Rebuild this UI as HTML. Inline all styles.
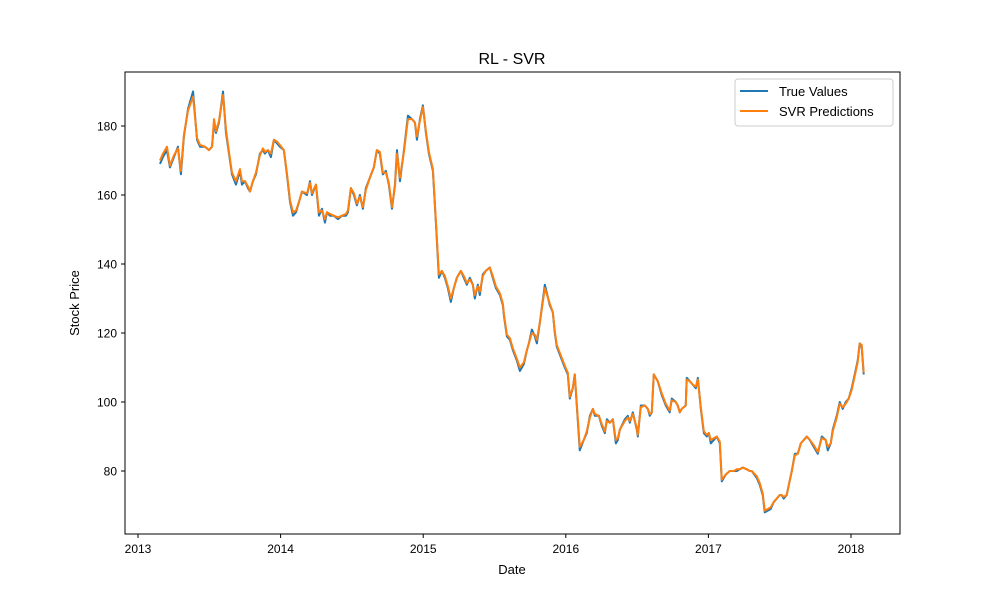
<!DOCTYPE html>
<html><head><meta charset="utf-8"><style>
body{margin:0;background:#fff;}
svg{font-family:"Liberation Sans","DejaVu Sans",sans-serif;}
</style></head><body>
<svg id="chart" width="1000" height="600" xmlns="http://www.w3.org/2000/svg">
<rect width="1000" height="600" fill="#fff"/>
<text x="512" y="64" text-anchor="middle" font-size="16">RL - SVR</text>
<g id="plot"></g>
<rect x="125" y="72" width="775" height="462" fill="none" stroke="#000" stroke-width="1"/>
<g id="xticks"></g><g id="yticks"></g>
<text x="512" y="574" text-anchor="middle" font-size="13">Date</text>
<text transform="translate(79,303) rotate(-90)" text-anchor="middle" font-size="13">Stock Price</text>
<g>
<rect x="735" y="79" width="158" height="47" rx="3" fill="#fff" stroke="#ccc"/>
<line x1="740" y1="91" x2="768" y2="91" stroke="#1f77b4" stroke-width="2"/>
<text x="779" y="96" font-size="13">True Values</text>
<line x1="740" y1="111" x2="768" y2="111" stroke="#ff7f0e" stroke-width="2"/>
<text x="779" y="116" font-size="13">SVR Predictions</text>
</g>
</svg>
<script>
const dates=[2013.154,2013.175,2013.203,2013.224,2013.252,2013.280,2013.301,2013.322,2013.351,2013.386,2013.414,2013.435,2013.470,2013.498,2013.519,2013.533,2013.547,2013.568,2013.596,2013.617,2013.638,2013.659,2013.687,2013.715,2013.729,2013.750,2013.771,2013.785,2013.806,2013.827,2013.855,2013.876,2013.890,2013.911,2013.932,2013.953,2013.974,2013.995,2014.023,2014.044,2014.066,2014.087,2014.108,2014.129,2014.150,2014.185,2014.206,2014.220,2014.248,2014.269,2014.290,2014.311,2014.325,2014.346,2014.374,2014.402,2014.430,2014.458,2014.472,2014.493,2014.514,2014.535,2014.556,2014.577,2014.598,2014.626,2014.654,2014.675,2014.696,2014.717,2014.738,2014.759,2014.781,2014.802,2014.816,2014.837,2014.865,2014.893,2014.921,2014.942,2014.956,2014.977,2014.998,2015.019,2015.040,2015.068,2015.089,2015.110,2015.131,2015.152,2015.173,2015.194,2015.215,2015.236,2015.264,2015.285,2015.306,2015.327,2015.348,2015.362,2015.383,2015.397,2015.418,2015.439,2015.467,2015.488,2015.510,2015.538,2015.559,2015.566,2015.587,2015.608,2015.629,2015.657,2015.678,2015.706,2015.727,2015.741,2015.762,2015.783,2015.797,2015.818,2015.853,2015.888,2015.909,2015.923,2015.937,2015.965,2015.993,2016.014,2016.028,2016.049,2016.063,2016.077,2016.098,2016.126,2016.147,2016.169,2016.190,2016.204,2016.232,2016.253,2016.274,2016.288,2016.309,2016.330,2016.351,2016.365,2016.379,2016.414,2016.435,2016.449,2016.470,2016.498,2016.505,2016.526,2016.554,2016.575,2016.589,2016.603,2016.617,2016.645,2016.673,2016.701,2016.729,2016.743,2016.771,2016.785,2016.799,2016.813,2016.841,2016.848,2016.870,2016.891,2016.912,2016.926,2016.947,2016.968,2016.989,2017.003,2017.017,2017.038,2017.059,2017.080,2017.094,2017.122,2017.150,2017.178,2017.199,2017.220,2017.241,2017.269,2017.290,2017.304,2017.339,2017.360,2017.381,2017.395,2017.416,2017.437,2017.458,2017.479,2017.500,2017.514,2017.528,2017.549,2017.564,2017.585,2017.606,2017.627,2017.648,2017.669,2017.690,2017.711,2017.739,2017.767,2017.795,2017.823,2017.837,2017.858,2017.872,2017.900,2017.921,2017.942,2017.963,2017.984,2018.005,2018.026,2018.047,2018.061,2018.075,2018.089];
const trueVals=[169,171,173,168,171,174,166,177,185,190,176,174,174,173,174,181,178,181,190,178,172,166,163,167,163,164,162,161,164,166,172,173,172,173,171,176,175,174,173,166,158,154,155,158,161,160,164,160,163,154,156,152,155,154,154,153,154,154,155,162,160,157,160,156,162,165,168,173,172,166,167,163,156,163,173,164,173,183,182,181,176,182,186,178,172,167,152,136,138,136,133,129,133,136,138,136,134,136,134,130,134,131,137,138,139,136,133,131,128,125,119,118,115,112,109,111,115,117,121,119,117,123,134,128,126,120,116,113,110,108,101,104,108,99,86,89,91,96,98,96,96,93,91,95,94,95,88,89,92,95,96,94,97,92,90,99,99,98,96,97,108,106,102,99,97,101,100,99,97,98,99,107,106,105,104,107,98,91,90,91,88,89,90,88,77,79,80,80,80,80.5,81,80.5,80,80,78,76,73,68,68.5,69,71,72,73,73,72,73,76,80,85,85,88,89,90,89,87,85,90,89,86,88,92,96,100,98,100,101,104,108,112,117,116,108];
const svrVals=[170,172,174,168.5,171.5,173.5,167,177.5,184.5,188.5,176.5,174.5,174,173,174,182,178.5,181.5,189,179,172.5,166.5,164,167.5,164,164,162.5,161,164,166.5,171.5,173.5,172.5,173,172,176,175.5,174.5,173,166.5,158.5,155,155.5,158,161,160.5,163.5,160.5,163,155,155.5,153,155,154.5,154,153.5,154,154.5,155.5,162,160.5,157.5,159.5,156.5,161.5,165,168,173,172.5,166.5,166.5,163.5,156.5,162.5,172,165,172.5,182,182,181,177,181.5,185.5,178.5,172.5,167.5,152.5,137,138,136.5,133.5,130,133,136,138,136.5,134.5,135.5,134,131,133.5,132,136.5,138,139,136.5,133.5,131.5,128.5,125.5,119.5,118.5,115.5,112.5,110,111.5,115,117,120,119.5,118,123,133,128.5,126,120.5,116.5,113.5,110.5,108.5,101.5,104,108,99.5,87,89,91.5,95.5,98,96.5,96,93.5,91.5,94.5,94,95,89,89.5,92,94.5,95.5,94.5,96.5,92.5,90.5,98.5,99,98,96.5,97,108,106,102.5,99.5,97.5,100.5,100,99,97,98,99,106.5,106,105,104.5,106.5,98.5,91.5,90.5,91,89,89.5,90,88.5,77.5,79,80,80,80.5,80.5,81,80.5,80,80,78.5,76.5,73.5,68.5,69,69.5,71,72,73,73,72.5,73,76,80,84.5,85,88,89,90,89,87.5,85.5,89.5,89,87,88,91.5,95.5,99.5,98.5,99.5,101,103.5,107.5,111.5,117,116.5,108.5];
const xTicks=[2013,2014,2015,2016,2017,2018];
const yTicks=[80,100,120,140,160,180];

const NS="http://www.w3.org/2000/svg";
function xs(t){return 138+(t-2013)*142.6;}
function ys(v){return 471-(v-80)*3.45;}
function mk(tag,attrs,parent){const e=document.createElementNS(NS,tag);for(const k in attrs)e.setAttribute(k,attrs[k]);parent.appendChild(e);return e;}
const plot=document.getElementById('plot');
function series(vals,color,name){
  const d=vals.map((v,i)=>(i?'L':'M')+xs(dates[i]).toFixed(2)+' '+ys(v).toFixed(2)).join(' ');
  const p=mk('path',{d:d,fill:'none',stroke:color,'stroke-width':2,'stroke-linejoin':'round'},plot);
  
  
}
series(trueVals,'#1f77b4','true-values-line');
series(svrVals,'#ff7f0e','svr-predictions-line');
const xg=document.getElementById('xticks');
xTicks.forEach(t=>{
  const x=xs(t);
  const l=mk('line',{x1:x,y1:534,x2:x,y2:538,stroke:'#000'},xg);
  
  
  const tx=mk('text',{x:x,y:553,'text-anchor':'middle','font-size':12},xg);
  tx.textContent=t;
  
  
});
const yg=document.getElementById('yticks');
yTicks.forEach(t=>{
  const y=ys(t);
  const l=mk('line',{x1:121,y1:y,x2:125,y2:y,stroke:'#000'},yg);
  
  
  const tx=mk('text',{x:117,y:y+4.5,'text-anchor':'end','font-size':12},yg);
  tx.textContent=t;
  
  
});
</script>
</body></html>
